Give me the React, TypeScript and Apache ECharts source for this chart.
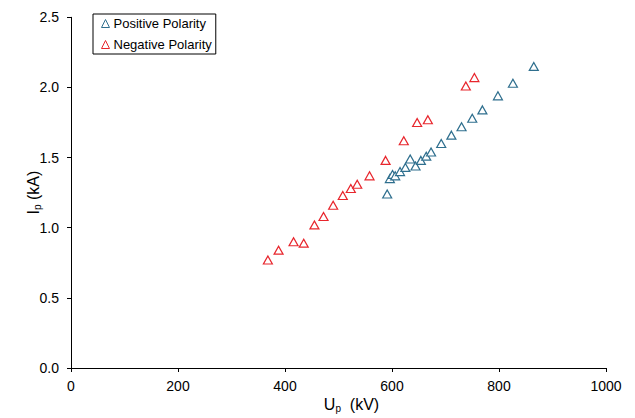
import React, { useEffect, useRef } from "react";
import * as echarts from "echarts";

const positiveX = [591, 596, 601, 606, 615, 625, 634, 644, 654, 664, 673, 692, 711, 730, 750, 769, 798, 826, 865];
const positiveY = [1.24, 1.35, 1.38, 1.37, 1.40, 1.43, 1.49, 1.44, 1.48, 1.51, 1.54, 1.60, 1.66, 1.72, 1.78, 1.84, 1.94, 2.03, 2.15];
const negativeX = [368, 388, 416, 435, 455, 472, 490, 508, 523, 535, 558, 588, 622, 647, 667, 738, 754];
const negativeY = [0.77, 0.84, 0.90, 0.89, 1.02, 1.08, 1.16, 1.23, 1.28, 1.31, 1.37, 1.48, 1.62, 1.75, 1.77, 2.01, 2.07];
const seriesNames = ["Positive Polarity", "Negative Polarity"];
const xTicks = { min: 0, max: 1000, interval: 200 };
const yTicks = { min: 0, max: 2.5, interval: 0.5 };

const BLUE = "#2f6f8e";
const RED = "#e8262d";
const FONT = "Liberation Sans, Arial, sans-serif";

export default function App() {
  const ref = useRef<HTMLDivElement>(null);
  useEffect(() => {
    if (!ref.current) return;
    const chart = echarts.init(ref.current, undefined, { renderer: "svg" });
    const pos = positiveX.map((x, i) => [x, positiveY[i]]);
    const neg = negativeX.map((x, i) => [x, negativeY[i]]);
    const axisCommon = {
      axisLine: { show: true, lineStyle: { color: "#000", width: 1 } },
      axisTick: { show: true, length: 4, lineStyle: { color: "#000" } },
      splitLine: { show: false },
      axisLabel: { color: "#000", fontSize: 14, fontFamily: FONT },
    };
    const nameRich = {
      a: { fontSize: 16, color: "#000", fontFamily: FONT },
      s: { fontSize: 10, color: "#000", fontFamily: FONT, verticalAlign: "bottom", padding: [7, 0, 0, 0] },
    };
    chart.setOption({
      animation: false,
      backgroundColor: "#fff",
      textStyle: { fontFamily: FONT },
      grid: { left: 71, right: 29, top: 17.3, bottom: 43.5 },
      legend: {
        orient: "vertical",
        left: 93,
        top: 14,
        padding: [3, 4, 3, 6],
        itemGap: 8,
        itemWidth: 8,
        itemHeight: 8,
        borderColor: "#000",
        borderWidth: 1,
        textStyle: { color: "#000", fontSize: 13, fontFamily: FONT, padding: [0, 0, 0, -1] },
        data: [
          { name: seriesNames[0], icon: "triangle", itemStyle: { color: "none", borderColor: BLUE, borderWidth: 1 } },
          { name: seriesNames[1], icon: "triangle", itemStyle: { color: "none", borderColor: RED, borderWidth: 1 } },
        ],
      },
      xAxis: {
        type: "value",
        ...xTicks,
        ...axisCommon,
        axisLabel: { ...axisCommon.axisLabel, margin: 11, formatter: (v: number) => String(v) },
        name: "{a|U}{s|p}{a|  (kV)}",
        nameLocation: "middle",
        nameGap: 28,
        nameMoveOverlap: false,
        nameTextStyle: { padding: [0, 0, 0, 26], rich: nameRich },
      },
      yAxis: {
        type: "value",
        ...yTicks,
        ...axisCommon,
        axisLabel: { ...axisCommon.axisLabel, margin: 12, formatter: (v: number) => v.toFixed(1) },
        name: "{a|I}{s|p}{a| (kA)}",
        nameLocation: "middle",
        nameGap: 29,
        nameMoveOverlap: false,
        nameTextStyle: { rich: nameRich },
      },
      series: [
        {
          name: seriesNames[0],
          type: "scatter",
          data: pos,
          symbol: "triangle",
          symbolSize: [9, 8],
          itemStyle: { color: "#fff", opacity: 1, borderColor: BLUE, borderWidth: 1.2 },
        },
        {
          name: seriesNames[1],
          type: "scatter",
          data: neg,
          symbol: "triangle",
          symbolSize: [9, 8],
          itemStyle: { color: "#fff", opacity: 1, borderColor: RED, borderWidth: 1.2 },
        },
      ],
    });
    return () => chart.dispose();
  }, []);
  return <div ref={ref} style={{ width: 635, height: 418, position: "absolute", left: 0, top: 0 }} />;
}
